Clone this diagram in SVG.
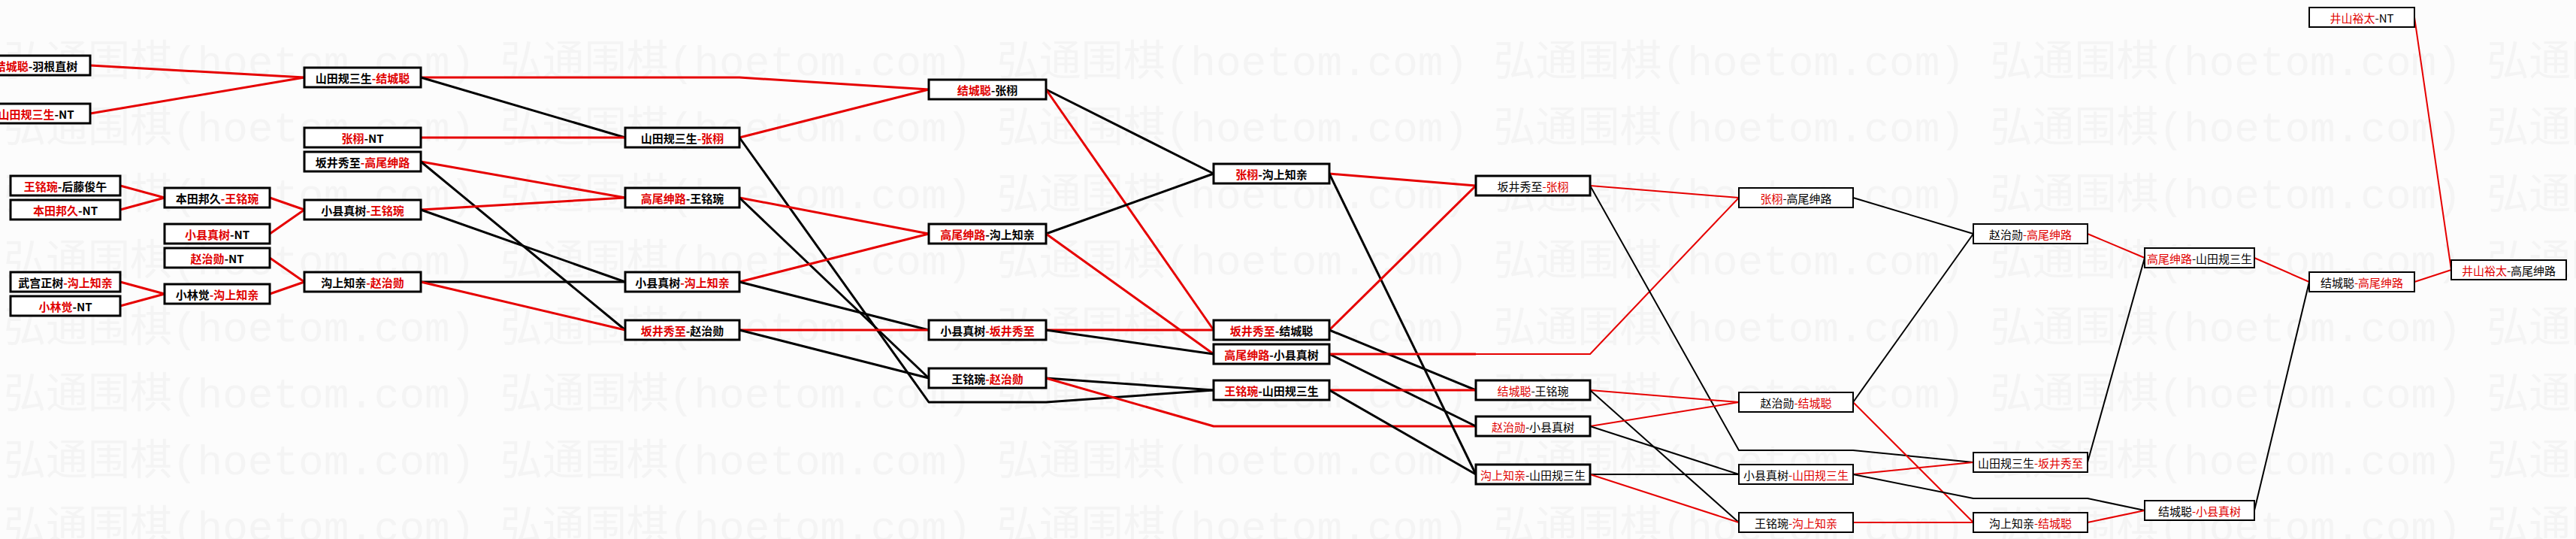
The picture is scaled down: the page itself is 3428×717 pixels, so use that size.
<svg xmlns="http://www.w3.org/2000/svg" width="3428" height="717" viewBox="0 0 3428 717">
<style>
.bg{fill:#fcfcfc}
.wm{font-family:"Liberation Mono","Noto Sans CJK SC",monospace;font-size:56px;fill:#f4f4f4}
.box{fill:#fff;stroke:#000;stroke-width:3}
.box2{fill:#fff;stroke:#000;stroke-width:2}
.t{font-family:"Noto Sans CJK SC",sans-serif;font-size:15px;fill:#000;text-anchor:middle;dominant-baseline:central;font-weight:700}
.t2{font-family:"Noto Sans CJK SC",sans-serif;font-size:15px;fill:#000;text-anchor:middle;dominant-baseline:central;font-weight:400}
.r{fill:#e00000}
.er{fill:none;stroke:#e60000;stroke-width:3;stroke-linejoin:round}
.eb{fill:none;stroke:#000;stroke-width:3;stroke-linejoin:round}
.er2{fill:none;stroke:#e60000;stroke-width:2;stroke-linejoin:round}
.eb2{fill:none;stroke:#000;stroke-width:2;stroke-linejoin:round}
</style>
<rect class="bg" x="0" y="0" width="3428" height="717"/>
<g id="watermark" class="wm">
<text x="5" y="100">弘通围棋(hoetom.com) 弘通围棋(hoetom.com) 弘通围棋(hoetom.com) 弘通围棋(hoetom.com) 弘通围棋(hoetom.com) 弘通围棋(hoetom.com)</text>
<text x="5" y="188">弘通围棋(hoetom.com) 弘通围棋(hoetom.com) 弘通围棋(hoetom.com) 弘通围棋(hoetom.com) 弘通围棋(hoetom.com) 弘通围棋(hoetom.com)</text>
<text x="5" y="277">弘通围棋(hoetom.com) 弘通围棋(hoetom.com) 弘通围棋(hoetom.com) 弘通围棋(hoetom.com) 弘通围棋(hoetom.com) 弘通围棋(hoetom.com)</text>
<text x="5" y="365">弘通围棋(hoetom.com) 弘通围棋(hoetom.com) 弘通围棋(hoetom.com) 弘通围棋(hoetom.com) 弘通围棋(hoetom.com) 弘通围棋(hoetom.com)</text>
<text x="5" y="454">弘通围棋(hoetom.com) 弘通围棋(hoetom.com) 弘通围棋(hoetom.com) 弘通围棋(hoetom.com) 弘通围棋(hoetom.com) 弘通围棋(hoetom.com)</text>
<text x="5" y="542">弘通围棋(hoetom.com) 弘通围棋(hoetom.com) 弘通围棋(hoetom.com) 弘通围棋(hoetom.com) 弘通围棋(hoetom.com) 弘通围棋(hoetom.com)</text>
<text x="5" y="631">弘通围棋(hoetom.com) 弘通围棋(hoetom.com) 弘通围棋(hoetom.com) 弘通围棋(hoetom.com) 弘通围棋(hoetom.com) 弘通围棋(hoetom.com)</text>
<text x="5" y="719">弘通围棋(hoetom.com) 弘通围棋(hoetom.com) 弘通围棋(hoetom.com) 弘通围棋(hoetom.com) 弘通围棋(hoetom.com) 弘通围棋(hoetom.com)</text>
</g>
<g id="connectors">
<path class="er" d="M120 87 L405 103"/>
<path class="er" d="M120 151 L405 103"/>
<path class="er" d="M160 247 L219 263"/>
<path class="er" d="M160 279 L219 263"/>
<path class="er" d="M160 375 L219 391"/>
<path class="er" d="M160 407 L219 391"/>
<path class="er" d="M359 263 L405 279"/>
<path class="er" d="M359 311 L405 279"/>
<path class="er" d="M359 343 L405 375"/>
<path class="er" d="M359 391 L405 375"/>
<path class="er" d="M560 103 L984 103 L1236 119"/>
<path class="eb" d="M560 103 L832 183"/>
<path class="er" d="M560 183 L832 183"/>
<path class="er" d="M560 215 L832 263"/>
<path class="eb" d="M560 215 L832 439"/>
<path class="er" d="M560 279 L832 263"/>
<path class="eb" d="M560 279 L832 375"/>
<path class="eb" d="M560 375 L832 375"/>
<path class="er" d="M560 375 L832 439"/>
<path class="er" d="M984 183 L1236 119"/>
<path class="eb" d="M984 183 L1236 535 L1392 535 L1615 519"/>
<path class="er" d="M984 263 L1236 311"/>
<path class="eb" d="M984 263 L1236 503"/>
<path class="er" d="M984 375 L1236 311"/>
<path class="eb" d="M984 375 L1236 439"/>
<path class="er" d="M984 439 L1236 439"/>
<path class="eb" d="M984 439 L1236 503"/>
<path class="eb" d="M1392 119 L1615 231"/>
<path class="er" d="M1392 119 L1615 439"/>
<path class="eb" d="M1392 311 L1615 231"/>
<path class="er" d="M1392 311 L1615 471"/>
<path class="er" d="M1392 439 L1615 439"/>
<path class="eb" d="M1392 439 L1615 471"/>
<path class="eb" d="M1392 503 L1615 519"/>
<path class="er" d="M1392 503 L1615 567 L1964 567"/>
<path class="er" d="M1769 231 L1964 247"/>
<path class="eb" d="M1769 231 L1964 631"/>
<path class="er" d="M1769 439 L1964 247"/>
<path class="eb" d="M1769 439 L1964 519"/>
<path class="eb" d="M1769 471 L1964 567"/>
<path class="er" d="M1769 471 L1964 471"/>
<path class="er2" d="M1964 471 L2116 471 L2314 263"/>
<path class="er" d="M1769 519 L1964 519"/>
<path class="eb" d="M1769 519 L1964 631"/>
<path class="er2" d="M2116 247 L2314 263"/>
<path class="eb2" d="M2116 247 L2314 599 L2466 599 L2626 615"/>
<path class="er2" d="M2116 519 L2314 535"/>
<path class="eb2" d="M2116 519 L2314 695"/>
<path class="er2" d="M2116 567 L2314 535"/>
<path class="eb2" d="M2116 567 L2314 631"/>
<path class="eb2" d="M2116 631 L2314 631"/>
<path class="er2" d="M2116 631 L2314 695"/>
<path class="eb2" d="M2466 263 L2626 311"/>
<path class="eb2" d="M2466 535 L2626 311"/>
<path class="er2" d="M2466 535 L2626 695"/>
<path class="er2" d="M2466 631 L2626 615"/>
<path class="eb2" d="M2466 631 L2626 663 L2778 663 L2854 679"/>
<path class="er2" d="M2466 695 L2626 695"/>
<path class="er2" d="M2778 311 L2854 343"/>
<path class="eb2" d="M2778 615 L2854 343"/>
<path class="er2" d="M2778 695 L2854 679"/>
<path class="er2" d="M3000 343 L3073 375"/>
<path class="eb2" d="M3000 679 L3073 375"/>
<path class="er2" d="M3213 23 L3262 359"/>
<path class="er2" d="M3213 375 L3262 359"/>
</g>
<g id="n1"><rect class="box" x="-25" y="74" width="145" height="26"/><text class="t" x="48" y="87"><tspan class="r">结城聪</tspan>-羽根直树</text></g>
<g id="n2"><rect class="box" x="-25" y="138" width="145" height="26"/><text class="t" x="48" y="151"><tspan class="r">山田规三生</tspan>-NT</text></g>
<g id="n3"><rect class="box" x="14" y="234" width="146" height="26"/><text class="t" x="87" y="247"><tspan class="r">王铭琬</tspan>-后藤俊午</text></g>
<g id="n4"><rect class="box" x="14" y="266" width="146" height="26"/><text class="t" x="87" y="279"><tspan class="r">本田邦久</tspan>-NT</text></g>
<g id="n5"><rect class="box" x="14" y="362" width="146" height="26"/><text class="t" x="87" y="375">武宫正树<tspan class="r">-沟上知亲</tspan></text></g>
<g id="n6"><rect class="box" x="14" y="394" width="146" height="26"/><text class="t" x="87" y="407"><tspan class="r">小林觉</tspan>-NT</text></g>
<g id="n7"><rect class="box" x="219" y="250" width="140" height="26"/><text class="t" x="289" y="263">本田邦久<tspan class="r">-王铭琬</tspan></text></g>
<g id="n8"><rect class="box" x="219" y="298" width="140" height="26"/><text class="t" x="289" y="311"><tspan class="r">小县真树</tspan>-NT</text></g>
<g id="n9"><rect class="box" x="219" y="330" width="140" height="26"/><text class="t" x="289" y="343"><tspan class="r">赵治勋</tspan>-NT</text></g>
<g id="n10"><rect class="box" x="219" y="378" width="140" height="26"/><text class="t" x="289" y="391">小林觉<tspan class="r">-沟上知亲</tspan></text></g>
<g id="n11"><rect class="box" x="405" y="90" width="155" height="26"/><text class="t" x="482.5" y="103">山田规三生<tspan class="r">-结城聪</tspan></text></g>
<g id="n12"><rect class="box" x="405" y="170" width="155" height="26"/><text class="t" x="482.5" y="183"><tspan class="r">张栩</tspan>-NT</text></g>
<g id="n13"><rect class="box" x="405" y="202" width="155" height="26"/><text class="t" x="482.5" y="215">坂井秀至<tspan class="r">-高尾绅路</tspan></text></g>
<g id="n14"><rect class="box" x="405" y="266" width="155" height="26"/><text class="t" x="482.5" y="279">小县真树<tspan class="r">-王铭琬</tspan></text></g>
<g id="n15"><rect class="box" x="405" y="362" width="155" height="26"/><text class="t" x="482.5" y="375">沟上知亲<tspan class="r">-赵治勋</tspan></text></g>
<g id="n16"><rect class="box" x="832" y="170" width="152" height="26"/><text class="t" x="908" y="183">山田规三生<tspan class="r">-张栩</tspan></text></g>
<g id="n17"><rect class="box" x="832" y="250" width="152" height="26"/><text class="t" x="908" y="263"><tspan class="r">高尾绅路</tspan>-王铭琬</text></g>
<g id="n18"><rect class="box" x="832" y="362" width="152" height="26"/><text class="t" x="908" y="375">小县真树<tspan class="r">-沟上知亲</tspan></text></g>
<g id="n19"><rect class="box" x="832" y="426" width="152" height="26"/><text class="t" x="908" y="439"><tspan class="r">坂井秀至</tspan>-赵治勋</text></g>
<g id="n20"><rect class="box" x="1236" y="106" width="156" height="26"/><text class="t" x="1314" y="119"><tspan class="r">结城聪</tspan>-张栩</text></g>
<g id="n21"><rect class="box" x="1236" y="298" width="156" height="26"/><text class="t" x="1314" y="311"><tspan class="r">高尾绅路</tspan>-沟上知亲</text></g>
<g id="n22"><rect class="box" x="1236" y="426" width="156" height="26"/><text class="t" x="1314" y="439">小县真树<tspan class="r">-坂井秀至</tspan></text></g>
<g id="n23"><rect class="box" x="1236" y="490" width="156" height="26"/><text class="t" x="1314" y="503">王铭琬<tspan class="r">-赵治勋</tspan></text></g>
<g id="n24"><rect class="box" x="1615" y="218" width="154" height="26"/><text class="t" x="1692" y="231"><tspan class="r">张栩</tspan>-沟上知亲</text></g>
<g id="n25"><rect class="box" x="1615" y="426" width="154" height="26"/><text class="t" x="1692" y="439"><tspan class="r">坂井秀至</tspan>-结城聪</text></g>
<g id="n26"><rect class="box" x="1615" y="458" width="154" height="26"/><text class="t" x="1692" y="471"><tspan class="r">高尾绅路</tspan>-小县真树</text></g>
<g id="n27"><rect class="box" x="1615" y="506" width="154" height="26"/><text class="t" x="1692" y="519"><tspan class="r">王铭琬</tspan>-山田规三生</text></g>
<g id="n28"><rect class="box" x="1964" y="234" width="152" height="26"/><text class="t2" x="2040" y="247">坂井秀至<tspan class="r">-张栩</tspan></text></g>
<g id="n29"><rect class="box" x="1964" y="506" width="152" height="26"/><text class="t2" x="2040" y="519"><tspan class="r">结城聪</tspan>-王铭琬</text></g>
<g id="n30"><rect class="box" x="1964" y="554" width="152" height="26"/><text class="t2" x="2040" y="567"><tspan class="r">赵治勋</tspan>-小县真树</text></g>
<g id="n31"><rect class="box" x="1964" y="618" width="152" height="26"/><text class="t2" x="2040" y="631"><tspan class="r">沟上知亲</tspan>-山田规三生</text></g>
<g id="n32"><rect class="box2" x="2314" y="250" width="152" height="26"/><text class="t2" x="2390" y="263"><tspan class="r">张栩</tspan>-高尾绅路</text></g>
<g id="n33"><rect class="box2" x="2314" y="522" width="152" height="26"/><text class="t2" x="2390" y="535">赵治勋<tspan class="r">-结城聪</tspan></text></g>
<g id="n34"><rect class="box2" x="2314" y="618" width="152" height="26"/><text class="t2" x="2390" y="631">小县真树<tspan class="r">-山田规三生</tspan></text></g>
<g id="n35"><rect class="box2" x="2314" y="682" width="152" height="26"/><text class="t2" x="2390" y="695">王铭琬<tspan class="r">-沟上知亲</tspan></text></g>
<g id="n36"><rect class="box2" x="2626" y="298" width="152" height="26"/><text class="t2" x="2702" y="311">赵治勋<tspan class="r">-高尾绅路</tspan></text></g>
<g id="n37"><rect class="box2" x="2626" y="602" width="152" height="26"/><text class="t2" x="2702" y="615">山田规三生<tspan class="r">-坂井秀至</tspan></text></g>
<g id="n38"><rect class="box2" x="2626" y="682" width="152" height="26"/><text class="t2" x="2702" y="695">沟上知亲<tspan class="r">-结城聪</tspan></text></g>
<g id="n39"><rect class="box2" x="2854" y="330" width="146" height="26"/><text class="t2" x="2927" y="343"><tspan class="r">高尾绅路</tspan>-山田规三生</text></g>
<g id="n40"><rect class="box2" x="2854" y="666" width="146" height="26"/><text class="t2" x="2927" y="679">结城聪<tspan class="r">-小县真树</tspan></text></g>
<g id="n41"><rect class="box2" x="3073" y="10" width="140" height="26"/><text class="t2" x="3143" y="23"><tspan class="r">井山裕太</tspan>-NT</text></g>
<g id="n42"><rect class="box2" x="3073" y="362" width="140" height="26"/><text class="t2" x="3143" y="375">结城聪<tspan class="r">-高尾绅路</tspan></text></g>
<g id="n43"><rect class="box2" x="3262" y="346" width="153" height="26"/><text class="t2" x="3338.5" y="359"><tspan class="r">井山裕太</tspan>-高尾绅路</text></g>
</svg>
